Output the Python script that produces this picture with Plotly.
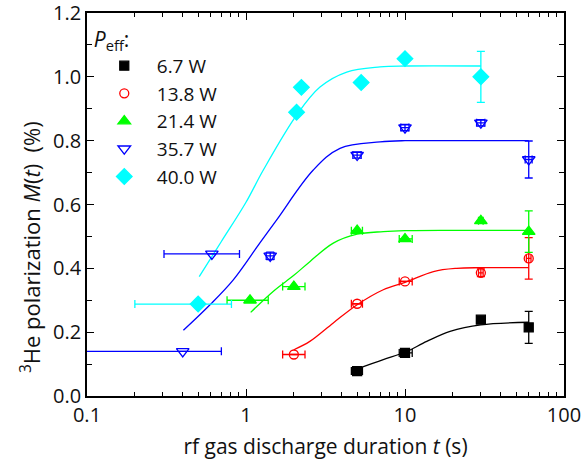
import plotly.graph_objects as go

# ---------------- data ----------------
names = ["6.7 W", "13.8 W", "21.4 W", "35.7 W", "40.0 W"]
colors = ["#000000", "#FF0000", "#00FF00", "#0000FF", "#00FFFF"]
symbols = ["square", "circle-open", "triangle-up", "triangle-down-open", "diamond"]
sizes = [9, 9, 11, 11, 12]

# 6.7 W
t_67 = [5, 10, 30, 60]
m_67 = [0.078, 0.135, 0.239, 0.215]
xm_67 = [0.4, 0.8, 0, 0]
xp_67 = [0.4, 1.1, 0, 0]
ye_67 = [0, 0.008, 0, 0.05]

# 13.8 W
t_138 = [2.0, 5, 10, 30, 60]
m_138 = [0.13, 0.289, 0.359, 0.386, 0.431]
xm_138 = [0.3, 0.4, 0.8, 1.0, 2.0]
xp_138 = [0.35, 0.4, 1.1, 1.0, 2.0]
ye_138 = [0, 0, 0, 0.012, 0.065]

# 21.4 W
t_214 = [1.06, 2.0, 5, 10, 30, 60]
m_214 = [0.30, 0.343, 0.518, 0.492, 0.549, 0.515]
xm_214 = [0.30, 0.3, 0.4, 0.8, 1.0, 0]
xp_214 = [0.32, 0.35, 0.4, 1.1, 1.0, 0]
ye_214 = [0, 0, 0, 0, 0, 0.065]

# 35.7 W
t_357 = [0.40, 0.61, 1.42, 5, 10, 30, 60]
m_357 = [0.14, 0.445, 0.439, 0.755, 0.841, 0.856, 0.741]
xm_357 = [0.34, 0.305, 0.08, 0.3, 0.6, 1.8, 3.0]
xp_357 = [0.30, 0.30, 0.08, 0.3, 0.6, 1.8, 3.0]
ye_357 = [0, 0, 0.012, 0.01, 0.01, 0.01, 0.058]

# 40.0 W
t_400 = [0.50, 2.08, 2.23, 5.3, 10, 30]
m_400 = [0.288, 0.889, 0.967, 0.982, 1.057, 1.0]
xm_400 = [0.30, 0, 0, 0, 0, 0]
xp_400 = [0.31, 0, 0, 0, 0, 0]
ye_400 = [0, 0, 0, 0, 0, 0.08]

# fitted curves
ft_67 = [5, 7.3, 10, 13.7, 19.2, 30, 60]
fm_67 = [0.085, 0.114, 0.137, 0.171, 0.2025, 0.223, 0.231]
ft_138 = [2.0, 2.52, 3.54, 5, 7.3, 10, 15.1, 21.1, 30, 60]
fm_138 = [0.145, 0.171, 0.229, 0.286, 0.333, 0.356, 0.39, 0.40, 0.402, 0.402]
ft_214 = [1.07, 1.5, 2.0, 2.52, 3.54, 5, 7.3, 10, 20, 60]
fm_214 = [0.262, 0.33, 0.378, 0.421, 0.479, 0.507, 0.515, 0.518, 0.519, 0.519]
ft_357 = [0.404, 0.594, 0.832, 1.22, 1.56, 2.65, 3.9, 6.97, 10, 20, 60]
fm_357 = [0.206, 0.286, 0.364, 0.479, 0.552, 0.708, 0.776, 0.796, 0.80, 0.80, 0.80]
ft_400 = [0.508, 0.7, 1.0, 1.285, 2.08, 2.92, 4.3, 6.97, 10, 30]
fm_400 = [0.374, 0.484, 0.607, 0.708, 0.88, 0.968, 1.015, 1.031, 1.034, 1.034]

x_tickvals = [0.1, 1, 10, 100]
x_ticktext = ["0.1", "1", "10", "100"]
x_minor = [v * d for d in (0.1, 1, 10) for v in range(2, 10)]

series = [
    (t_67, m_67, xm_67, xp_67, ye_67, ft_67, fm_67),
    (t_138, m_138, xm_138, xp_138, ye_138, ft_138, fm_138),
    (t_214, m_214, xm_214, xp_214, ye_214, ft_214, fm_214),
    (t_357, m_357, xm_357, xp_357, ye_357, ft_357, fm_357),
    (t_400, m_400, xm_400, xp_400, ye_400, ft_400, fm_400),
]

FONT = "Open Sans"
TXT = "#111111"
fig = go.Figure()

for (t, m, xm, xp, ye, ft, fm), c in zip(series, colors):
    fig.add_trace(go.Scatter(
        x=ft, y=fm, mode="lines", line=dict(color=c, width=1.3, shape="spline", smoothing=1.0),
        showlegend=False, hoverinfo="skip"))

for (t, m, xm, xp, ye, ft, fm), c, s, n, sz in zip(series, colors, symbols, names, sizes):
    fig.add_trace(go.Scatter(
        x=t, y=m, mode="markers", name=n,
        marker=dict(symbol=s, size=sz, color=c, line=dict(color=c, width=1.3)),
        error_x=dict(type="data", symmetric=False, array=xp, arrayminus=xm,
                     color=c, thickness=1.3, width=4),
        error_y=dict(type="data", array=ye, color=c, thickness=1.3, width=4),
    ))

axis_common = dict(
    showline=True, linecolor="black", linewidth=1.6, mirror="ticks",
    ticks="inside", tickcolor="black", tickwidth=1.3, ticklen=7,
    showgrid=False, zeroline=False, automargin=False, ticklabeloverflow="allow",
    tickfont=dict(family=FONT, size=20, color=TXT),
)

fig.update_xaxes(
    type="log", range=[-1, 2], tickmode="array", tickvals=x_tickvals, ticktext=x_ticktext,
    minor=dict(tickmode="array", tickvals=x_minor, ticks="inside", ticklen=4,
               tickcolor="black", tickwidth=1.2),
    title=dict(text="rf gas discharge duration <i>t</i> (s)",
               font=dict(family=FONT, size=21, color=TXT), standoff=13),
    **axis_common)
fig.update_yaxes(
    range=[0, 1.2], dtick=0.2, tick0=0, tickformat=".1f",
    minor=dict(dtick=0.1, ticks="inside", ticklen=5, tickcolor="black", tickwidth=1.2),
    **axis_common)

fig.add_annotation(
    text="<sup>3</sup>He polarization <i>M</i>(<i>t</i>)  (%)",
    textangle=-90, xref="paper", yref="paper", x=-0.1195, y=0.389,
    xanchor="center", yanchor="middle", showarrow=False,
    font=dict(family=FONT, size=22, color=TXT))

fig.update_layout(
    width=584, height=467,
    margin=dict(l=87, r=20, t=12.5, b=70.5, autoexpand=False),
    paper_bgcolor="white", plot_bgcolor="white",
    font=dict(family=FONT, size=20, color=TXT),
    legend=dict(
        x=0.01, y=0.983, xanchor="left", yanchor="top",
        bgcolor="rgba(0,0,0,0)",
        title=dict(text="<i>P</i><sub>eff</sub>:", font=dict(family=FONT, size=21, color=TXT)),
        font=dict(family=FONT, size=19, color=TXT),
        itemwidth=55, tracegroupgap=0,
    ),
)

fig.write_html("out.html")
